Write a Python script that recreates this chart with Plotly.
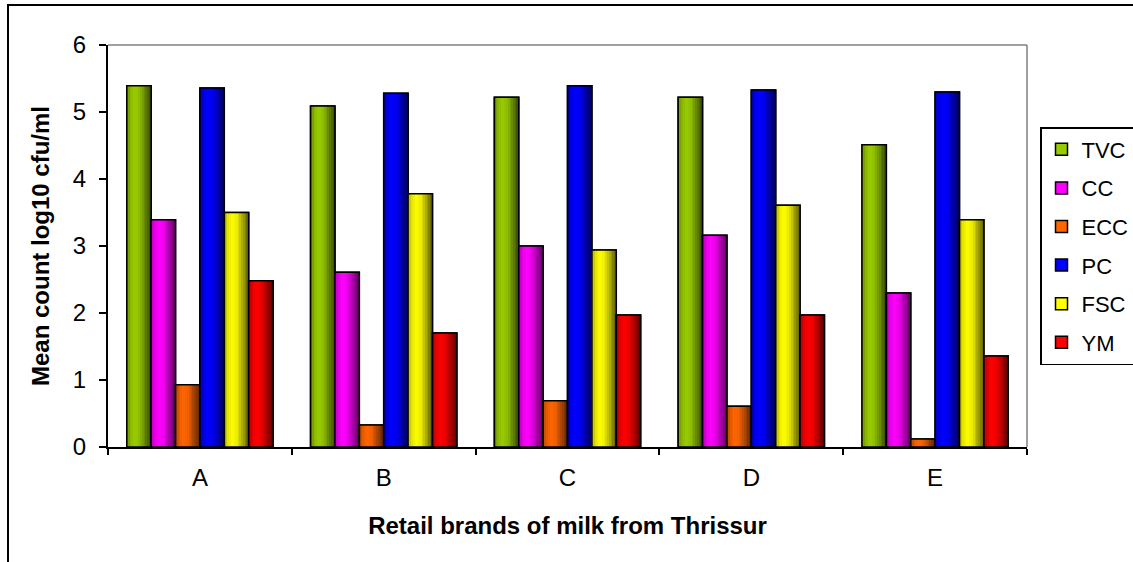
import plotly.graph_objects as go

# Retail milk brands and mean microbial counts (log10 cfu/ml)
brands = ["A", "B", "C", "D", "E"]
tvc = [5.39, 5.09, 5.22, 5.22, 4.51]
cc = [3.39, 2.61, 3.00, 3.16, 2.30]
ecc = [0.93, 0.33, 0.69, 0.61, 0.12]
pc = [5.36, 5.28, 5.39, 5.33, 5.30]
fsc = [3.50, 3.78, 2.94, 3.61, 3.39]
ym = [2.48, 1.70, 1.97, 1.97, 1.36]

series_names = ["TVC", "CC", "ECC", "PC", "FSC", "YM"]
series_values = [tvc, cc, ecc, pc, fsc, ym]
series_colors = ["#99CC00", "#FF00FF", "#FF6600", "#0000FF", "#FFFF00", "#FF0000"]

FONT = "Liberation Sans, Arial, sans-serif"
FS = 24
xpos = list(range(len(brands)))

group_w = 0.796
bar_w = group_w / len(series_names)
n_strips = 14

# brightness profile across a bar (cylinder-like shading)
profile = [(0.0, 0.6), (0.15, 0.88), (0.35, 1.0), (0.55, 0.92), (0.8, 0.62), (1.0, 0.38)]


def shade_factor(t):
    for (t0, f0), (t1, f1) in zip(profile[:-1], profile[1:]):
        if t0 <= t <= t1:
            return f0 + (f1 - f0) * (t - t0) / (t1 - t0)
    return profile[-1][1]


def shade(hex_color, f):
    h = hex_color.lstrip("#")
    r, g, b = (int(h[i:i + 2], 16) for i in (0, 2, 4))
    return "rgb(%d,%d,%d)" % (round(r * f), round(g * f), round(b * f))


fig = go.Figure()

for i, (name, vals, col) in enumerate(zip(series_names, series_values, series_colors)):
    base = -group_w / 2 + i * bar_w
    # solid base bar (also provides the legend swatch)
    fig.add_trace(go.Bar(
        x=xpos, y=vals, name=name, width=bar_w, offset=base,
        marker=dict(color=col, line=dict(color="black", width=1.5)),
        legendgroup=name, showlegend=True, hoverinfo="skip",
    ))
    # vertical shading strips
    sw = bar_w / n_strips
    for k in range(n_strips):
        t = (k + 0.5) / n_strips
        fig.add_trace(go.Bar(
            x=xpos, y=vals, width=sw * 1.05, offset=base + k * sw,
            marker=dict(color=shade(col, shade_factor(t)), line=dict(width=0)),
            legendgroup=name, showlegend=False, hoverinfo="skip",
        ))
    # outline on top
    fig.add_trace(go.Bar(
        x=xpos, y=vals, width=bar_w, offset=base,
        marker=dict(color="rgba(0,0,0,0)", line=dict(color="black", width=1.5)),
        legendgroup=name, showlegend=False, hovertemplate=name + ": %{y}<extra></extra>",
    ))

L, R, T, B = 108, 106, 45, 115
W, H = 1133, 562
pw, ph = W - L - R, H - T - B


def px_x(px):
    return (px - L) / pw


def px_y(py):
    return (H - B - py) / ph


shapes = [
    # plot area border (top and right)
    dict(type="line", xref="paper", yref="paper", x0=0, y0=1, x1=1, y1=1,
         line=dict(color="#808080", width=1.5), layer="below"),
    dict(type="line", xref="paper", yref="paper", x0=1, y0=0, x1=1, y1=1,
         line=dict(color="#808080", width=1.5), layer="below"),
    # chart frame
    dict(type="rect", xref="paper", yref="paper",
         x0=px_x(8), y0=px_y(5), x1=px_x(W + 10), y1=px_y(H + 10),
         line=dict(color="black", width=2), fillcolor="rgba(0,0,0,0)"),
]

fig.update_layout(
    width=W, height=H, autosize=False,
    margin=dict(l=L, r=R, t=T, b=B, autoexpand=False),
    paper_bgcolor="white", plot_bgcolor="white",
    barmode="overlay",
    font=dict(family=FONT, size=FS, color="black"),
    showlegend=True,
    legend=dict(
        x=px_x(1040), y=px_y(127), xanchor="left", yanchor="top",
        bordercolor="black", borderwidth=1.5, bgcolor="white",
        font=dict(family=FONT, size=22, color="black"),
        tracegroupgap=7, traceorder="grouped", itemwidth=30,
    ),
    shapes=shapes,
    xaxis=dict(
        range=[-0.5, 4.5], tickmode="array", tickvals=xpos, ticktext=brands,
        ticks="", showgrid=False, zeroline=False,
        showline=True, linecolor="black", linewidth=2,
        ticklabelstandoff=8,
        minor=dict(tickmode="array", tickvals=[-0.5, 0.5, 1.5, 2.5, 3.5, 4.5],
                   ticks="outside", ticklen=6, tickwidth=1.5, tickcolor="black",
                   showgrid=False),
        title=dict(text="<b>Retail brands of milk from Thrissur</b>",
                   font=dict(family=FONT, size=FS), standoff=27),
        fixedrange=True,
    ),
    yaxis=dict(
        range=[0, 6], dtick=1, tick0=0,
        ticks="outside", ticklen=7, tickwidth=1.5, tickcolor="black",
        showgrid=False, zeroline=False,
        showline=True, linecolor="black", linewidth=2,
        ticklabelstandoff=8,
        title=dict(text="<b>Mean count log10 cfu/ml</b>",
                   font=dict(family=FONT, size=FS), standoff=16),
        fixedrange=True,
    ),
)

fig.write_html("out.html")
